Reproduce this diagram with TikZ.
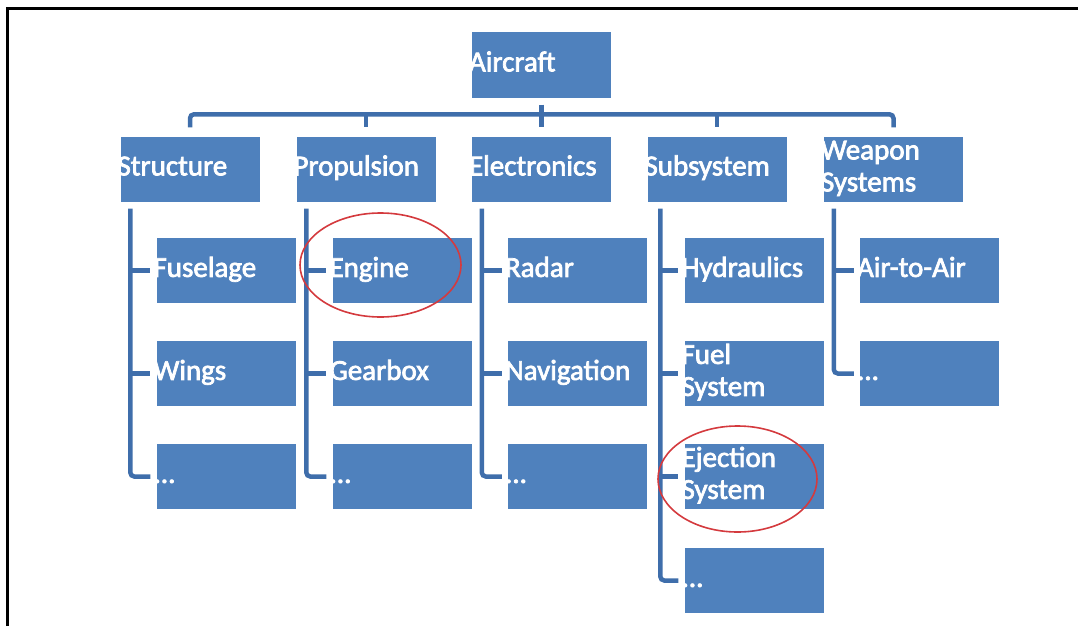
\documentclass[tikz,border=0pt]{standalone}
\usepackage{fontspec}
\setmainfont{Carlito}[FakeBold=2.5]
\usetikzlibrary{shapes.geometric}
\definecolor{boxblue}{HTML}{4F81BD}
\definecolor{lineblue}{HTML}{3F6EAB}
\definecolor{ringred}{HTML}{D43A3E}
\tikzset{
  box/.style={fill=boxblue, text=white, inner xsep=-3pt, inner ysep=0pt,
    text width=145pt, minimum height=65pt, align=left,
    font=\fontsize{29}{32}\selectfont,
    execute at begin node=\strut, execute at end node=\strut},
  conn/.style={draw=lineblue, line width=4.5pt, rounded corners=4pt},
  ring/.style={draw=ringred, line width=1.6pt, ellipse, inner sep=0pt},
}
\begin{document}
\begin{tikzpicture}[x=1pt,y=-1pt]
\useasboundingbox (0,0) rectangle (1078,626);
% frame
\draw[line width=3pt] (7,626) -- (7,9) -- (1078,9);

% top
\node[box] (air) at (541.5,65) {Aircraft};
% level 1
\node[box] (str) at (190,169) {Structure};
\node[box] (pro) at (366,169) {Propulsion};
\node[box] (ele) at (541.5,169) {Electronics};
\node[box] (sub) at (717,169) {Subsystem};
\node[box] (wea) at (893.5,169) {Weapon\\Systems};

% level 2
\node[box] (fus) at (226,270.5) {Fuselage};
\node[box] (win) at (226,373.5) {Wings};
\node[box] (sdt) at (226,476.5) {...};

\node[box] (eng) at (402,270.5) {Engine};
\node[box] (gea) at (402,373.5) {Gearbox};
\node[box] (pdt) at (402,476.5) {...};

\node[box] (rad) at (577.5,270.5) {Radar};
\node[box] (nav) at (577.5,373.5) {Navigation};
\node[box] (edt) at (577.5,476.5) {...};

\node[box] (hyd) at (754,270.5) {Hydraulics};
\node[box] (fue) at (754,373.5) {Fuel\\System};
\node[box] (eje) at (754,476.5) {Ejection\\System};
\node[box] (bdt) at (754,580.5) {...};

\node[box] (ata) at (929.5,270.5) {Air-to-Air};
\node[box] (wdt) at (929.5,373.5) {...};

% bus
\draw[conn] ([yshift=9pt]str.north) -- ([yshift=22pt]str.north)
  -- ([yshift=22pt]wea.north) -- ([yshift=9pt]wea.north);
\draw[conn] ([yshift=-7pt]air.south) -- ([yshift=9pt]ele.north);
\draw[conn] ([yshift=22pt]pro.north) -- ([yshift=9pt]pro.north);
\draw[conn] ([yshift=22pt]sub.north) -- ([yshift=9pt]sub.north);

% column trunks
\coordinate (strv) at ([xshift=10pt,yshift=-7pt]str.south west);
\coordinate (prov) at ([xshift=10pt,yshift=-7pt]pro.south west);
\coordinate (elev) at ([xshift=10pt,yshift=-7pt]ele.south west);
\coordinate (subv) at ([xshift=13pt,yshift=-7pt]sub.south west);
\coordinate (weav) at ([xshift=10pt,yshift=-7pt]wea.south west);

\draw[conn] (strv) |- ([xshift=-6pt]sdt.west);
\draw[conn] (strv |- fus.west) -- ([xshift=-6pt]fus.west);
\draw[conn] (strv |- win.west) -- ([xshift=-6pt]win.west);

\draw[conn] (prov) |- ([xshift=-6pt]pdt.west);
\draw[conn] (prov |- eng.west) -- ([xshift=-6pt]eng.west);
\draw[conn] (prov |- gea.west) -- ([xshift=-6pt]gea.west);

\draw[conn] (elev) |- ([xshift=-6pt]edt.west);
\draw[conn] (elev |- rad.west) -- ([xshift=-6pt]rad.west);
\draw[conn] (elev |- nav.west) -- ([xshift=-6pt]nav.west);

\draw[conn] (subv) |- ([xshift=-6pt]bdt.west);
\draw[conn] (subv |- hyd.west) -- ([xshift=-6pt]hyd.west);
\draw[conn] (subv |- fue.west) -- ([xshift=-6pt]fue.west);
\draw[conn] (subv |- eje.west) -- ([xshift=-6pt]eje.west);

\draw[conn] (weav) |- ([xshift=-6pt]wdt.west);
\draw[conn] (weav |- ata.west) -- ([xshift=-6pt]ata.west);

% red rings
\node[ring, minimum width=161pt, minimum height=104pt] (ring1) at (380.5,265) {};
\node[ring, minimum width=159pt, minimum height=106pt] (ring2) at (737.5,479) {};
\end{tikzpicture}
\end{document}
